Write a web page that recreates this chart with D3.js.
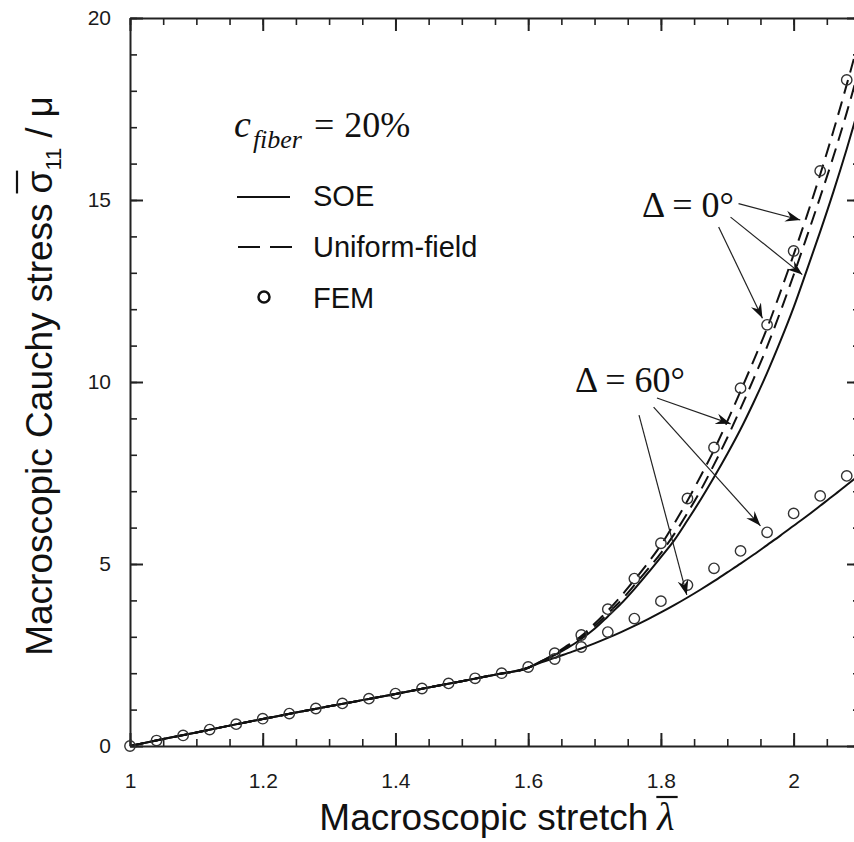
<!DOCTYPE html>
<html>
<head>
<meta charset="utf-8">
<script src="https://cdnjs.cloudflare.com/ajax/libs/d3/7.8.5/d3.min.js"></script>
<style>
  body { margin: 0; background: #fff; }
  svg { display: block; }
</style>
</head>
<body>
<div id="chart"></div>
<script>
const {select, scaleLinear, line, curveMonotoneX, axisBottom, axisTop, axisLeft, axisRight, range} = d3;

// model curves share one stretch grid
const stretchGrid = [1.00,1.05,1.10,1.15,1.20,1.25,1.30,1.35,1.40,1.45,1.50,1.55,1.60,
  1.62,1.64,1.66,1.68,1.70,1.72,1.74,1.76,1.78,1.80,1.82,1.84,1.86,1.88,1.90,
  1.92,1.94,1.96,1.98,2.00,2.02,2.04,2.06,2.08,2.10];
const soe0 = [0,0.19,0.37,0.56,0.74,0.92,1.09,1.26,1.43,1.61,1.78,1.96,2.15,
  2.33,2.5,2.7,2.94,3.22,3.56,3.91,4.31,4.74,5.19,5.65,6.2,6.77,7.38,8.02,
  8.7,9.45,10.25,11.12,12.05,13.08,14.13,15.23,16.4,17.65];
const soe60 = [0,0.19,0.37,0.56,0.74,0.92,1.09,1.26,1.43,1.61,1.78,1.96,2.15,
  2.3,2.42,2.55,2.68,2.82,2.97,3.13,3.3,3.48,3.67,3.87,4.08,4.3,4.53,4.77,
  5.01,5.26,5.52,5.78,6.05,6.32,6.6,6.88,7.17,7.46];
const uniform0 = [0,0.19,0.37,0.56,0.74,0.92,1.09,1.26,1.43,1.61,1.78,1.96,2.15,
  2.33,2.53,2.77,3.02,3.36,3.72,4.12,4.56,5.02,5.52,6.11,6.74,7.42,8.13,8.92,
  9.75,10.6,11.48,12.47,13.5,14.57,15.7,16.9,18.17,19.5];
const uniform60 = [0,0.19,0.37,0.56,0.74,0.92,1.09,1.26,1.43,1.61,1.78,1.96,2.15,
  2.32,2.51,2.73,2.98,3.29,3.64,4.0,4.42,4.85,5.3,5.82,6.4,7.03,7.73,8.47,
  9.27,10.1,10.97,11.93,12.94,14.0,15.08,16.2,17.4,18.7];

// FEM points
const femStretch = [1.00,1.04,1.08,1.12,1.16,1.20,1.24,1.28,1.32,1.36,1.40,1.44,1.48,1.52,
  1.56,1.60,1.64,1.68,1.72,1.76,1.80,1.84,1.88,1.92,1.96,2.00,2.04,2.08];
const fem0 = [0,0.15,0.29,0.45,0.6,0.75,0.89,1.03,1.17,1.3,1.44,1.58,1.72,1.86,
  2.0,2.17,2.55,3.05,3.76,4.6,5.57,6.8,8.2,9.83,11.57,13.6,15.8,18.3];
const fem60 = [0,0.15,0.29,0.45,0.6,0.75,0.89,1.03,1.17,1.3,1.44,1.58,1.72,1.86,
  2.0,2.17,2.39,2.72,3.13,3.5,3.98,4.42,4.88,5.36,5.87,6.39,6.87,7.42];

// arrows [x0, y0, x1, y1] in data units
const arrows0 = [[1.917,14.9,2.010,14.45],[1.905,14.53,2.013,12.95],[1.887,14.26,1.953,11.75]];
const arrows60 = [[1.794,9.56,1.905,8.85],[1.789,9.31,1.950,6.05],[1.767,9.09,1.839,4.15]];

const xMajor = [1, 1.2, 1.4, 1.6, 1.8, 2];
const xTickLabels = ['1', '1.2', '1.4', '1.6', '1.8', '2'];
const yMajor = [0, 5, 10, 15, 20];
const yTickLabels = ['0', '5', '10', '15', '20'];
const xMinor = range(1, 2.101, 0.05);
const yMinor = range(0, 20.5, 1);

const W = 854, H = 842;
const sans = '"Liberation Sans", Arial, sans-serif';
const serif = '"Liberation Serif", "Times New Roman", serif';

const x = scaleLinear().domain([1, 2.1]).range([130, 860]);
const y = scaleLinear().domain([0, 20]).range([746, 18]);

const svg = select('#chart').append('svg')
  .attr('width', W).attr('height', H)
  .style('background', '#fff');

const defs = svg.append('defs');
defs.append('clipPath').attr('id', 'plotClip')
  .append('rect').attr('x', 130).attr('y', 18).attr('width', 730).attr('height', 728);
defs.append('marker')
  .attr('id', 'head')
  .attr('viewBox', '-15 -7 17 14')
  .attr('refX', 0).attr('refY', 0)
  .attr('markerUnits', 'userSpaceOnUse')
  .attr('markerWidth', 17).attr('markerHeight', 14)
  .attr('orient', 'auto')
  .append('path')
  .attr('d', 'M0,0 L-15,-5.5 L-10,0 L-15,5.5 Z')
  .attr('fill', '#111');

const drawAxes = () => {
  const styleAxis = (g, lw) => {
    g.select('.domain').attr('stroke', '#222').attr('stroke-width', 2);
    g.selectAll('.tick line').attr('stroke', '#222').attr('stroke-width', lw);
    g.selectAll('.tick text')
      .style('font-family', sans).style('font-size', '21px').attr('fill', '#1a1a1a');
  };
  const minor = (g) => { g.select('.domain').remove(); g.selectAll('.tick line').attr('stroke', '#222').attr('stroke-width', 1.6); };

  // minor ticks
  svg.append('g').attr('transform', 'translate(0,746)')
    .call(axisBottom(x).tickValues(xMinor).tickFormat('').tickSizeInner(-7).tickSizeOuter(0)).call(minor);
  svg.append('g').attr('transform', 'translate(0,18)')
    .call(axisTop(x).tickValues(xMinor).tickFormat('').tickSizeInner(-7).tickSizeOuter(0)).call(minor);
  svg.append('g').attr('transform', 'translate(130,0)')
    .call(axisLeft(y).tickValues(yMinor).tickFormat('').tickSizeInner(-7).tickSizeOuter(0)).call(minor);
  svg.append('g').attr('transform', 'translate(860,0)')
    .call(axisRight(y).tickValues(yMinor).tickFormat('').tickSizeInner(-7).tickSizeOuter(0)).call(minor);

  // major ticks + frame
  svg.append('g').attr('transform', 'translate(0,746)')
    .call(axisBottom(x).tickValues(xMajor).tickFormat((d, i) => xTickLabels[i])
      .tickSizeInner(-13).tickSizeOuter(0).tickPadding(27))
    .call(g => styleAxis(g, 2));
  svg.append('g').attr('transform', 'translate(0,18)')
    .call(axisTop(x).tickValues(xMajor).tickFormat('').tickSizeInner(-13).tickSizeOuter(0))
    .call(g => styleAxis(g, 2));
  svg.append('g').attr('transform', 'translate(130,0)')
    .call(axisLeft(y).tickValues(yMajor).tickFormat((d, i) => yTickLabels[i])
      .tickSizeInner(-13).tickSizeOuter(0).tickPadding(19))
    .call(g => styleAxis(g, 2));
  svg.append('g').attr('transform', 'translate(860,0)')
    .call(axisRight(y).tickValues(yMajor).tickFormat('').tickSizeInner(-13).tickSizeOuter(0))
    .call(g => styleAxis(g, 2));
};

// writes pieces of text one after another, returns the total width
const textRuns = (g, parts) => {
  let cursor = 0;
  parts.forEach(p => {
    if (p.gap) { cursor += p.gap; return; }
    const t = g.append('text')
      .attr('x', cursor).attr('y', p.dy || 0)
      .style('font-family', p.family || sans)
      .style('font-size', p.size + 'px')
      .style('font-style', p.italic ? 'italic' : 'normal')
      .attr('fill', '#111')
      .text(p.text);
    const w = t.node().getComputedTextLength();
    if (p.bar) {
      g.append('line')
        .attr('x1', cursor + p.bar[0]).attr('x2', cursor + w + p.bar[1])
        .attr('y1', p.bar[2]).attr('y2', p.bar[2])
        .attr('stroke', '#111').attr('stroke-width', 2.2);
    }
    cursor += w;
  });
  return cursor;
};

const centeredRuns = (transform, parts) => {
  const outer = svg.append('g').attr('transform', transform);
  const inner = outer.append('g');
  const w = textRuns(inner, parts);
  inner.attr('transform', `translate(${-w / 2},0)`);
};

const drawTitles = () => {
  centeredRuns('translate(497,830)', [
    {text: 'Macroscopic stretch', size: 37},
    {gap: 9},
    {text: 'λ', size: 40, family: serif, italic: true, bar: [-1, 3, -33]}
  ]);
  centeredRuns('translate(52,376) rotate(-90)', [
    {text: 'Macroscopic Cauchy stress', size: 37},
    {gap: 10},
    {text: 'σ', size: 37, bar: [0, 0, -35]},
    {text: '11', size: 22, dy: 9},
    {gap: 10},
    {text: '/', size: 37},
    {gap: 10},
    {text: 'μ', size: 37}
  ]);
};

const drawCurves = () => {
  const plot = svg.append('g').attr('clip-path', 'url(#plotClip)');
  const path = line().x(d => x(d[0])).y(d => y(d[1])).curve(curveMonotoneX);
  const series = [
    {vals: uniform0, dash: '14,8'},
    {vals: uniform60, dash: '14,8'},
    {vals: soe0, dash: null},
    {vals: soe60, dash: null}
  ];
  series.forEach(s => {
    plot.append('path')
      .attr('d', path(stretchGrid.map((v, i) => [v, s.vals[i]])))
      .attr('fill', 'none').attr('stroke', '#111').attr('stroke-width', 2)
      .attr('stroke-dasharray', s.dash);
  });
};

const drawPoints = () => {
  const pts = femStretch.map((v, i) => [v, fem0[i]])
    .concat(femStretch.map((v, i) => [v, fem60[i]]).filter((d, i) => fem60[i] !== fem0[i]));
  svg.append('g').selectAll('circle').data(pts).enter().append('circle')
    .attr('cx', d => x(d[0])).attr('cy', d => y(d[1])).attr('r', 5.2)
    .attr('fill', 'none').attr('stroke', '#333').attr('stroke-width', 1.4);
};

const drawAnnotations = () => {
  arrows0.concat(arrows60).forEach(a => {
    svg.append('line')
      .attr('x1', x(a[0])).attr('y1', y(a[1])).attr('x2', x(a[2])).attr('y2', y(a[3]))
      .attr('stroke', '#222').attr('stroke-width', 1.2)
      .attr('marker-end', 'url(#head)');
  });
  svg.append('text').attr('x', 642).attr('y', 217)
    .style('font-family', serif).style('font-size', '36px').attr('fill', '#111')
    .text('Δ = 0°');
  svg.append('text').attr('x', 575).attr('y', 392)
    .style('font-family', serif).style('font-size', '36px').attr('fill', '#111')
    .text('Δ = 60°');
};

const drawLegend = () => {
  const g = svg.append('g').attr('transform', 'translate(234,137)');
  textRuns(g, [
    {text: 'c', size: 38, family: serif, italic: true},
    {gap: 2},
    {text: 'fiber', size: 26, family: serif, italic: true, dy: 11},
    {gap: 12},
    {text: '=', size: 36, family: serif},
    {gap: 10},
    {text: '20%', size: 36, family: serif}
  ]);

  const lg = svg.append('g');
  lg.append('line').attr('x1', 237).attr('x2', 290).attr('y1', 197).attr('y2', 197)
    .attr('stroke', '#111').attr('stroke-width', 2);
  lg.append('line').attr('x1', 238).attr('x2', 292).attr('y1', 247).attr('y2', 247)
    .attr('stroke', '#111').attr('stroke-width', 2).attr('stroke-dasharray', '22,10');
  lg.append('circle').attr('cx', 264).attr('cy', 297).attr('r', 5.5)
    .attr('fill', 'none').attr('stroke', '#111').attr('stroke-width', 2.5);
  [['SOE', 206], ['Uniform-field', 257], ['FEM', 308]].forEach(([t, yy]) => {
    lg.append('text').attr('x', 313).attr('y', yy)
      .style('font-family', sans).style('font-size', '29px').attr('fill', '#111')
      .text(t);
  });
};

drawCurves();
drawAxes();
drawPoints();
drawAnnotations();
drawLegend();
drawTitles();
</script>
</body>
</html>
